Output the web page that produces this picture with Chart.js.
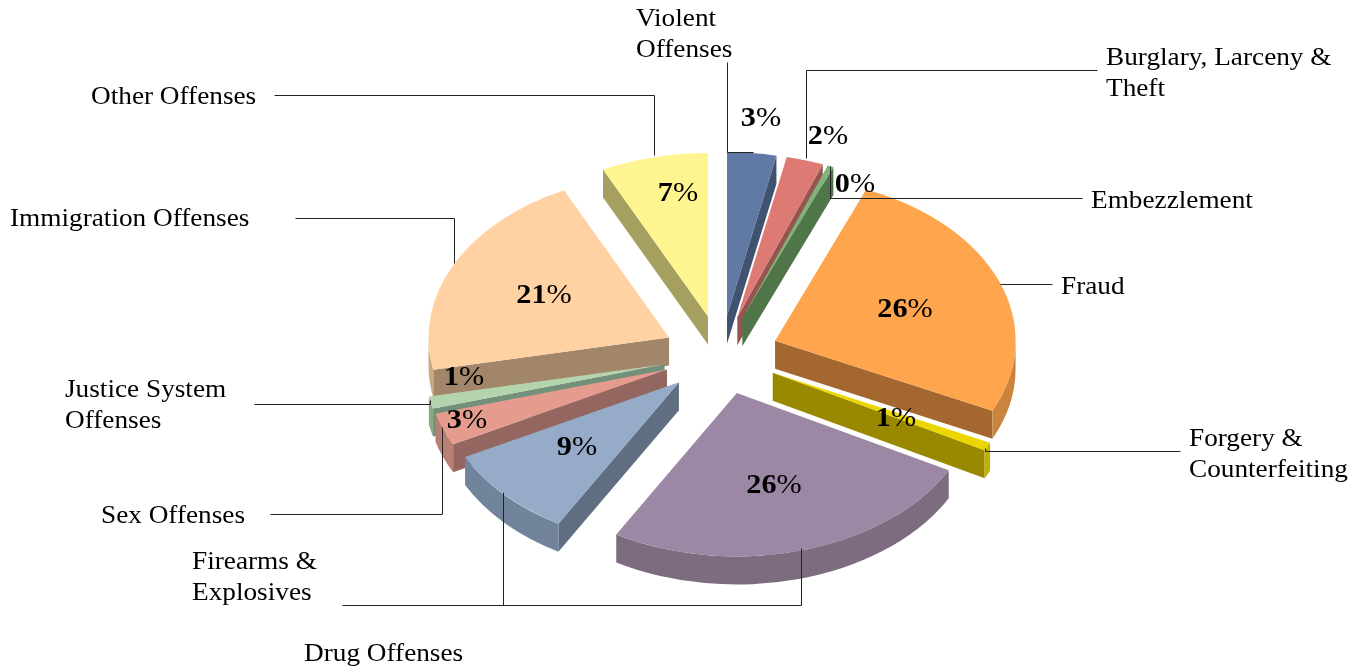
<!DOCTYPE html>
<html><head><meta charset="utf-8">
<style>html,body{margin:0;padding:0;background:#fff;overflow:hidden}canvas{display:block}</style>
<script src="https://cdn.jsdelivr.net/npm/chart.js@4"></script>
</head><body><canvas id="c" width="1364" height="670"></canvas>
<script>
const categories=["Violent Offenses","Burglary, Larceny & Theft","Embezzlement","Fraud","Forgery & Counterfeiting","Drug Offenses","Firearms & Explosives","Sex Offenses","Justice System Offenses","Immigration Offenses","Other Offenses"];
const shares=[3.3,2.49,0.4,25.9,0.8,25.55,9.1,3.2,1.2,21.0,7.2];
const topColors=["#6079A5","#DE7A74","#7EB478","#FFA54D","#EBD600","#9C88A4","#95ABC8","#E59C8E","#B5D3AD","#FFD1A3","#FFF590"];
const wallColors=["#3F5270","#965450","#4F7549","#A3672F","#998900","#7D6C80","#5F6E80","#936660","#73907A","#A2866A","#A5A060"];
const rimColors=["#4A6088","#B4655F","#5F8C58","#CB843D","#C4B000","#7D6C80","#72849B","#B97F74","#8FA984","#CCA880","#C9C272"];
const captions=[
 {t:"Violent",x:636,y:26},{t:"Offenses",x:636,y:57},
 {t:"Burglary, Larceny &",x:1106,y:65},{t:"Theft",x:1106,y:96},
 {t:"Embezzlement",x:1091,y:208},{t:"Fraud",x:1061,y:294},
 {t:"Forgery &",x:1189,y:446},{t:"Counterfeiting",x:1189,y:477},
 {t:"Drug Offenses",x:304,y:661},{t:"Firearms &",x:192,y:569},{t:"Explosives",x:192,y:600},
 {t:"Sex Offenses",x:101,y:523},{t:"Justice System",x:65,y:397},{t:"Offenses",x:65,y:428},
 {t:"Immigration Offenses",x:10,y:226},{t:"Other Offenses",x:91,y:104}];
const leaders=[
 [[727,62],[727,152],[753,152]],[[1097,70],[806,70],[806,158]],[[1082,198],[830,198],[830,166]],
 [[1052,284],[1000,284]],[[1180,451],[985,451],[985,448]],[[342,605],[801,605],[801,548]],
 [[503,605],[503,492]],[[270,514],[442,514],[442,427]],[[254,404],[430,404],[430,400]],
 [[295,218],[454,218],[454,263]],[[274,95],[654,95],[654,155]]];
const pctSpots=[[761,116],[828,134],[855,182],[905,307],[896,416],[774,483],[577,445],[467,418],[464,375],[544,293],[678,191]];
const tilt=0.68, depth=28, explode=58;
const FONT='"Liberation Serif"';
const captionStretch=1.09, pctStretch=1.08;

const pie3d={id:'pie3d',beforeDatasetsDraw(chart){
  const ctx=chart.ctx, arcs=chart.getDatasetMeta(0).data;
  const order=arcs.map((a,i)=>i).sort((p,q)=>{
    const m=i=>Math.sin((arcs[i].startAngle+arcs[i].endAngle)/2);return m(p)-m(q);});
  for(const i of order){
    const a=arcs[i],s=a.startAngle,e=a.endAngle,R=a.outerRadius,mid=(s+e)/2;
    const dx=Math.cos(mid)*explode,dy=Math.sin(mid)*explode*tilt;
    const ax=a.x+dx,ay=a.y+dy;
    const wall=(ang)=>{
      const ex=ax+Math.cos(ang)*R,ey=ay+Math.sin(ang)*R*tilt;
      ctx.beginPath();ctx.moveTo(ax,ay);ctx.lineTo(ex,ey);ctx.lineTo(ex,ey+depth);ctx.lineTo(ax,ay+depth);ctx.closePath();
      ctx.fillStyle=wallColors[i];ctx.fill();};
    if(-Math.cos(s)>0)wall(s);
    if(Math.cos(e)>0)wall(e);
    const a1=Math.max(s,0),a2=Math.min(e,Math.PI);
    if(a2>a1){
      ctx.beginPath();ctx.ellipse(ax,ay,R,R*tilt,0,a1,a2,false);
      ctx.ellipse(ax,ay+depth,R,R*tilt,0,a2,a1,true);ctx.closePath();
      ctx.fillStyle=rimColors[i];ctx.fill();
    }
    ctx.save();ctx.translate(ax,ay);ctx.scale(1,tilt);ctx.translate(-a.x,-a.y);a.draw(ctx);ctx.restore();
  }
  ctx.save();ctx.strokeStyle='#222';ctx.lineWidth=1;
  for(const l of leaders){ctx.beginPath();l.forEach((p,k)=>{const x=Math.round(p[0])+.5,y=Math.round(p[1])+.5;k?ctx.lineTo(x,y):ctx.moveTo(x,y);});ctx.stroke();}
  ctx.fillStyle='#000';ctx.textBaseline='alphabetic';ctx.textAlign='left';
  const put=(t,x,y,st)=>{ctx.save();ctx.translate(x,y);ctx.scale(st,1);ctx.fillText(t,0,0);ctx.restore();};
  ctx.font='25px '+FONT;
  for(const c of captions)put(c.t,c.x,c.y,captionStretch);
  shares.forEach((v,i)=>{
    const d=String(Math.round(v)),[x,y]=pctSpots[i];
    ctx.font='bold 28px '+FONT;const wd=ctx.measureText(d).width*pctStretch;
    ctx.font='28px '+FONT;const wp=ctx.measureText('%').width*pctStretch;
    const x0=x-(wd+wp)/2,base=y+10;
    ctx.font='bold 28px '+FONT;put(d,x0,base,pctStretch);
    ctx.font='28px '+FONT;put('%',x0+wd,base,pctStretch);
  });
  ctx.restore();
  return false;
}};
new Chart(document.getElementById('c'),{
  type:'pie',
  data:{labels:categories,datasets:[{data:shares,backgroundColor:topColors,borderWidth:0,hoverOffset:0}]},
  options:{responsive:false,animation:false,events:[],
    layout:{padding:{left:480.5,top:114.5,right:402.5,bottom:74.5}},
    plugins:{legend:{display:false},tooltip:{enabled:false}}},
  plugins:[pie3d]
});
</script></body></html>
